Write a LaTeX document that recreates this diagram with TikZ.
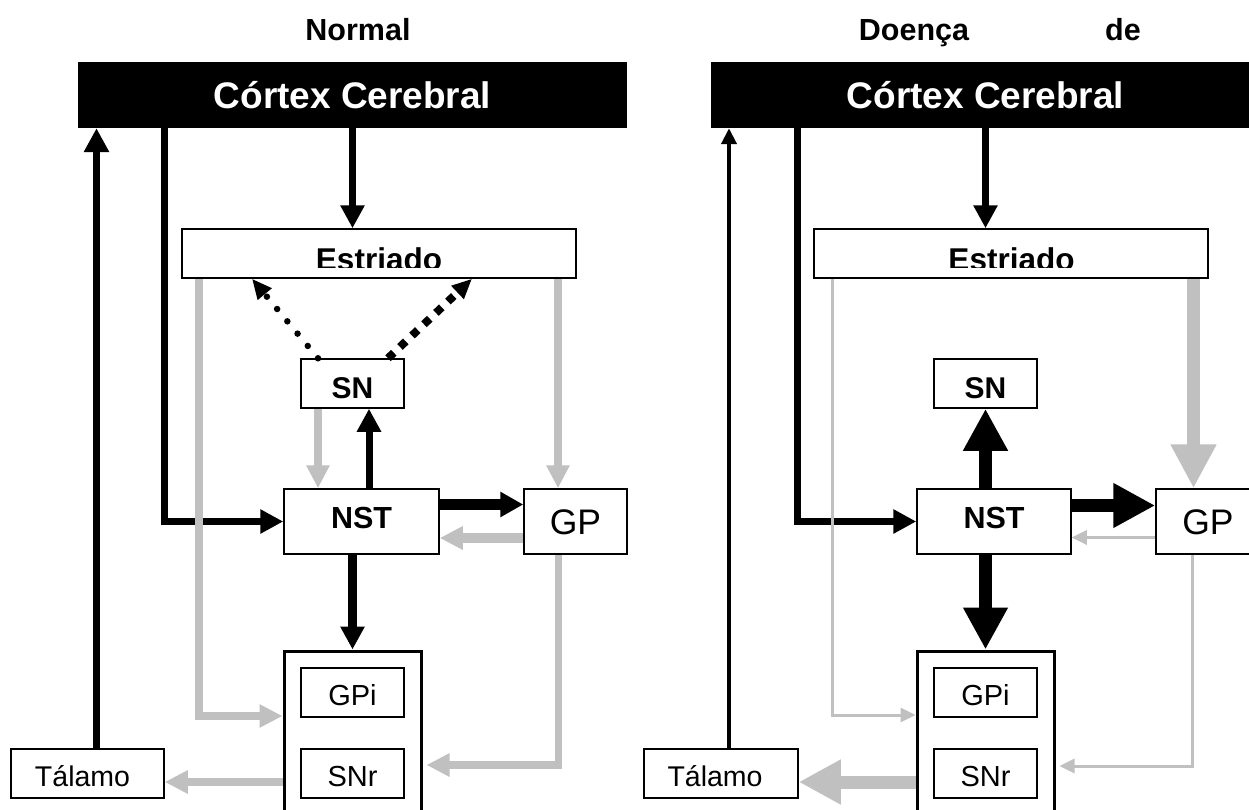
\documentclass[tikz,border=0pt]{standalone}
\usepackage{fontspec}
\setmainfont{Liberation Sans}
\usetikzlibrary{arrows.meta}
\definecolor{silv}{RGB}{192,192,192}
\newcommand{\myfs}[1]{\fontsize{#1bp}{#1bp}\selectfont}
\begin{document}
\begin{tikzpicture}[x=1bp,y=-1bp,
  ctx/.style={fill=black, text=white, inner sep=0, font=\bfseries\myfs{37}, text height=26.5bp, text depth=0bp, minimum width=549bp, minimum height=66bp},
  box/.style={draw=black, line width=1.5bp, fill=white, inner sep=0, minimum height=49bp},
  outer/.style={draw=black, line width=3bp, inner sep=0, minimum width=137bp, minimum height=180bp},
  ttl/.style={font=\bfseries\myfs{30.5}, inner sep=0, anchor=base},
  esttxt/.style={font=\bfseries\myfs{31.5}, inner sep=0, anchor=base},
  snbox/.style={box, minimum width=103bp, font=\bfseries\myfs{30}, text height=29.5bp, text depth=0bp},
  nstbox/.style={box, minimum width=155bp, minimum height=65bp, font=\bfseries\myfs{30.5}, text height=14.5bp, text depth=0bp},
  gpbox/.style={box, minimum width=104bp, minimum height=65bp, font=\myfs{35.5}, text height=26.4bp, text depth=0bp},
  inbox/.style={box, minimum width=103bp, font=\myfs{29}, text height=26.3bp, text depth=0bp},
  talbox/.style={box, font=\myfs{28.5}, text height=26.4bp, text depth=0bp},
  blkL/.style={draw=black, line width=7bp, -{Triangle[length=23bp,width=23bp]}},
  gryL/.style={draw=silv, line width=7.5bp, -{Triangle[length=23bp,width=22bp]}},
  blkT/.style={draw=black, line width=4bp, -{Triangle[length=16bp,width=15bp]}},
  gryT/.style={draw=silv, line width=3bp, -{Triangle[length=15bp,width=14bp]}},
  blkW/.style={draw=black, line width=13bp, -{Triangle[length=42bp,width=42bp]}},
  gryW/.style={draw=silv, line width=13bp, -{Triangle[length=44bp,width=43bp]}},
  dotL/.style={draw=black, line width=6.5bp, line cap=round, dash pattern=on 0bp off 16bp, -{Triangle[length=20bp,width=17bp]}},
  dotR/.style={draw=black, line width=8bp, dash pattern=on 8bp off 8.5bp, -{Triangle[length=20bp,width=17bp]}}
]
\clip (0,0) rectangle (1249,810);
\fill[white] (0,0) rectangle (1249,810);

% titles
\node[ttl] (tN) at (358,41) {Normal};
\node[ttl] (tD) at (914,41) {Doença};
\node[ttl] (tde) at (1123,41) {de};

% ===== left panel =====
\node[ctx] (ctxL) at (352.5,95) {Córtex Cerebral};
\node[box, minimum width=394bp] (estL) at (379,253.5) {};
\begin{scope}
  \clip (182,229) rectangle (576,267);
  \node[esttxt] (estLt) at (379,270.5) {Estriado};
\end{scope}
\node[snbox] (snL) at (352.5,383.5) {SN};
\node[nstbox] (nstL) at (361.5,521.5) {NST};
\node[gpbox, minimum width=103bp] (gpL) at (575.5,521.5) {GP};
\node[outer] (outL) at (352.5,741) {};
\node[inbox] (gpiL) at (352.5,692.5) {GPi};
\node[inbox] (snrL) at (352.5,773.5) {SNr};
\node[talbox] (talL) at (87.5,773.5) {\makebox[153bp][l]{\hspace{24bp}Tálamo}};

\draw[blkL, -{Triangle[length=24bp,width=24bp]}] ([xshift=9bp]talL.north) -- ([xshift=9bp]talL.north |- ctxL.south);
\draw[blkL] ([xshift=-188bp]ctxL.south) |- (nstL.west);
\draw[blkL] (ctxL.south) -- (ctxL.south |- estL.north);
\draw[dotL] ([xshift=-34.5bp]snL.north) -- ([xshift=-127bp]estL.south);
\draw[dotR] ([xshift=35.5bp]snL.north) -- ([xshift=93bp]estL.south);
\draw[gryL] ([xshift=-34.5bp]snL.south) -- ([xshift=-34.5bp]snL.south |- nstL.north);
\draw[blkL] ([xshift=16.5bp]snL.south |- nstL.north) -- ([xshift=16.5bp]snL.south);
\draw[blkL, line width=11bp, -{Triangle[length=23bp,width=24bp]}] ([yshift=17bp]nstL.east) -- ([yshift=17bp]nstL.east -| gpL.west);
\draw[gryL, line width=10bp] ([yshift=-16.5bp]gpL.west) -- ([yshift=-16.5bp]gpL.west -| nstL.east);
\draw[gryL] ([xshift=179bp]estL.south) -- ([xshift=179bp]estL.south |- gpL.north);
\draw[blkL, line width=8.5bp] (outL.north |- nstL.south) -- (outL.north);
\draw[gryL] ([xshift=-180bp]estL.south) |- ([yshift=25bp]outL.west);
\draw[gryL] ([xshift=-17bp]gpL.south) |- ([xshift=4bp,yshift=-24bp]outL.east);
\draw[gryL] ([yshift=-41bp]outL.west) -- ([yshift=-41bp]outL.west -| talL.east);

% ===== right panel =====
\node[ctx] (ctxR) at (985.5,95) {Córtex Cerebral};
\node[box, minimum width=394bp] (estR) at (1011,253.5) {};
\begin{scope}
  \clip (814,229) rectangle (1208,267);
  \node[esttxt] (estRt) at (1011.5,270.5) {Estriado};
\end{scope}
\node[snbox] (snR) at (985.5,383.5) {SN};
\node[nstbox, minimum width=154bp] (nstR) at (994,521.5) {NST};
\node[gpbox] (gpR) at (1208,521.5) {GP};
\node[outer] (outR) at (985.5,741) {};
\node[inbox] (gpiR) at (985.5,692.5) {GPi};
\node[inbox] (snrR) at (985.5,773.5) {SNr};
\node[talbox] (talR) at (721,773.5) {\makebox[154bp][l]{\hspace{23.5bp}Tálamo}};

\draw[blkT] ([xshift=8bp]talR.north) -- ([xshift=8bp]talR.north |- ctxR.south);
\draw[blkL] ([xshift=-188bp]ctxR.south) |- (nstR.west);
\draw[blkL] (ctxR.south) -- (ctxR.south |- estR.north);
\draw[gryT] ([xshift=-179bp]estR.south) |- ([yshift=26bp]outR.west);
\draw[gryW] ([xshift=182.5bp]estR.south) -- ([xshift=182.5bp]estR.south |- gpR.north);
\draw[blkW] (snR.south |- nstR.north) -- (snR.south);
\draw[blkW] ([yshift=16bp]nstR.east) -- ([yshift=16bp]nstR.east -| gpR.west);
\draw[gryT] ([yshift=-16bp]gpR.west) -- ([yshift=-16bp]gpR.west -| nstR.east);
\draw[blkW] (outR.north |- nstR.south) -- (outR.north);
\draw[gryT] ([xshift=-16bp]gpR.south) |- ([xshift=4bp,yshift=-25bp]outR.east);
\draw[gryW, -{Triangle[length=42bp,width=42bp]}] ([yshift=-41bp]outR.west) -- ([yshift=-41bp]outR.west -| talR.east);
\end{tikzpicture}
\end{document}
